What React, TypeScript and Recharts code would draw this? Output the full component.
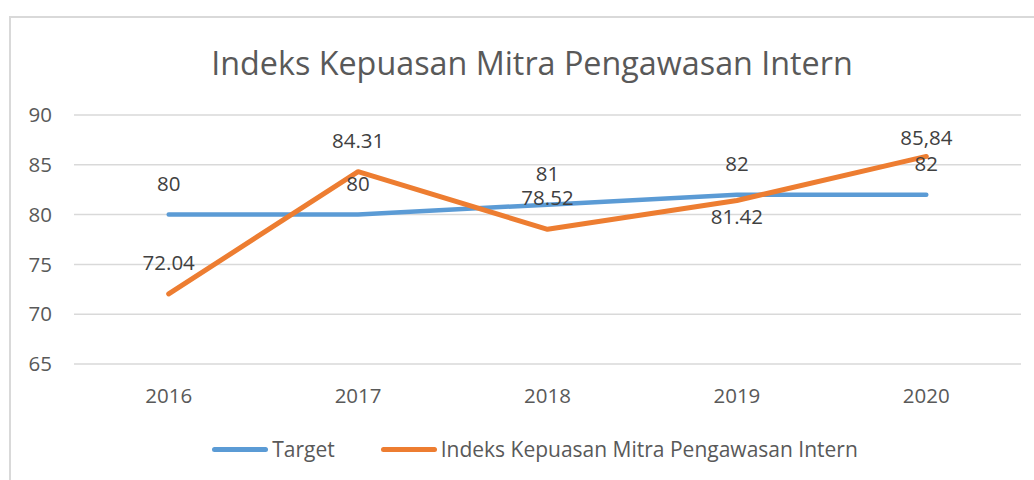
import React from 'react';
import { LineChart, Line, XAxis, YAxis, CartesianGrid, Legend, LabelList } from 'recharts';

// Chart values
const years = ['2016', '2017', '2018', '2019', '2020'];
const targetValues = [80, 80, 81, 82, 82];
const indexValues = [72.04, 84.31, 78.52, 81.42, 85.84];
const targetLabels = ['80', '80', '81', '82', '82'];
const indexLabels = ['72.04', '84.31', '78.52', '81.42', '85,84'];
const yTicks = [65, 70, 75, 80, 85, 90];

const TITLE = 'Indeks Kepuasan Mitra Pengawasan Intern';
const FONT = '"Open Sans", sans-serif';
const BLUE = '#5B9BD5';
const ORANGE = '#ED7D31';
const AXIS_TEXT = '#595959';
const LABEL_TEXT = '#404040';

const data = years.map((year, i) => ({
  year,
  target: targetValues[i],
  index: indexValues[i],
  targetLabel: targetLabels[i],
  indexLabel: indexLabels[i],
}));

// vertical shift of each data label from its point (negative = above)
const makeLabel = (shifts: number[]) => (props: any) => {
  const { x, y, index, value } = props;
  return (
    <text
      x={x}
      y={y + shifts[index]}
      textAnchor="middle"
      dominantBaseline="central"
      fontSize={20.5}
      fontFamily={FONT}
      fill={LABEL_TEXT}
    >
      {value}
    </text>
  );
};

const legendItems = [
  { name: 'Target', color: BLUE },
  { name: TITLE, color: ORANGE },
];

const renderLegend = () => (
  <div
    style={{
      display: 'flex',
      justifyContent: 'center',
      alignItems: 'center',
      gap: 46,
      paddingLeft: 36,
      fontFamily: FONT,
      fontSize: 21,
      color: AXIS_TEXT,
    }}
  >
    {legendItems.map((item) => (
      <span key={item.name} style={{ display: 'inline-flex', alignItems: 'center', gap: 4 }}>
        <span
          style={{ width: 56, height: 5, borderRadius: 3, backgroundColor: item.color, display: 'inline-block' }}
        ></span>
        {item.name}
      </span>
    ))}
  </div>
);

const App: React.FC = () => {
  return (
    <div style={{ position: 'absolute', left: 0, top: 0, width: 1034, height: 480, background: '#fff' }}>
      <div
        style={{
          position: 'absolute',
          left: 9,
          top: 16,
          width: 1040,
          height: 480,
          borderTop: '2px solid #d9d9d9',
          borderLeft: '2px solid #d9d9d9',
        }}
      ></div>
      <div
        style={{
          position: 'absolute',
          left: 0,
          width: 1064,
          top: 40,
          textAlign: 'center',
          fontFamily: FONT,
          fontSize: 32.3,
          color: AXIS_TEXT,
          lineHeight: '44px',
        }}
      >
        {TITLE}
      </div>
      <div style={{ position: 'absolute', left: 0, top: 0 }}>
        <LineChart width={1034} height={480} data={data} margin={{ top: 115, right: 13, bottom: 58, left: 0 }}>
          <CartesianGrid vertical={false} stroke="#d9d9d9" strokeWidth={1.5} />
          <XAxis
            dataKey="year"
            axisLine={false}
            tickLine={false}
            tickSize={0}
            tickMargin={24}
            height={30}
            padding={{ left: 94.7, right: 94.7 }}
            tick={{ fill: AXIS_TEXT, fontSize: 20.5, fontFamily: FONT }}
          />
          <YAxis
            domain={[65, 90]}
            ticks={yTicks}
            axisLine={false}
            tickLine={false}
            tickSize={0}
            tickMargin={22}
            width={74}
            tick={{ fill: AXIS_TEXT, fontSize: 20.5, fontFamily: FONT }}
          />
          <Legend
            layout="horizontal"
            align="left"
            verticalAlign="bottom"
            wrapperStyle={{ left: 0, top: 435, width: 1034 }}
            content={renderLegend}
          />
          <Line
            type="linear"
            dataKey="target"
            name="Target"
            stroke={BLUE}
            strokeWidth={4.5}
            strokeLinecap="round"
            strokeLinejoin="round"
            dot={false}
            activeDot={false}
            isAnimationActive={false}
          >
            <LabelList dataKey="targetLabel" content={makeLabel([-32, -32, -32, -32, -32])} />
          </Line>
          <Line
            type="linear"
            dataKey="index"
            name={TITLE}
            stroke={ORANGE}
            strokeWidth={5}
            strokeLinecap="round"
            strokeLinejoin="round"
            dot={false}
            activeDot={false}
            isAnimationActive={false}
          >
            <LabelList dataKey="indexLabel" content={makeLabel([-32, -32, -32, 16, -19])} />
          </Line>
        </LineChart>
      </div>
    </div>
  );
};

export default App;
